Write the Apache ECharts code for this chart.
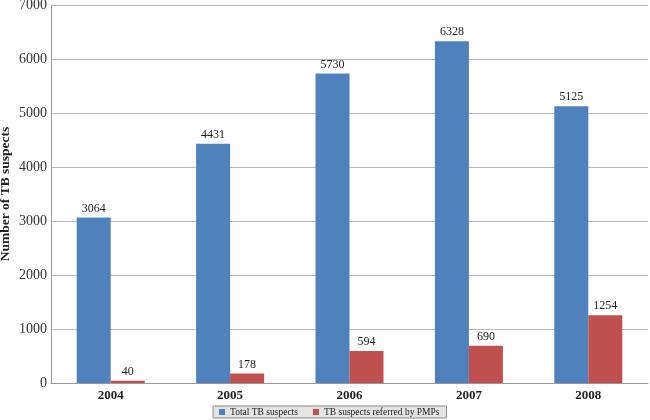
<!DOCTYPE html>
<html>
<head>
<meta charset="utf-8">
<script src="https://cdn.jsdelivr.net/npm/echarts@6/dist/echarts.min.js"></script>
<style>html,body{margin:0;padding:0;background:#fff;}#c{width:650px;height:420px;}</style>
</head>
<body>
<div id="c"></div>
<script>
const categories = ['2004', '2005', '2006', '2007', '2008'];
const totalSuspects = [3064, 4431, 5730, 6328, 5125];
const referredByPMPs = [40, 178, 594, 690, 1254];
const seriesNames = ['Total TB suspects', 'TB suspects referred by PMPs'];
const yTicks = { min: 0, max: 7000, interval: 1000 };

const font = '"Liberation Serif", "Times New Roman", serif';
const chart = echarts.init(document.getElementById('c'), null, { renderer: 'canvas' });
const labelCfg = { show: true, position: 'top', distance: 3, fontFamily: font, fontSize: 12, color: '#222' };
chart.setOption({
  animation: false,
  grid: { left: 51, right: 2, top: 5, bottom: 37, containLabel: false, outerBoundsMode: 'none' },
  legend: {
    left: 213, top: 406,
    data: seriesNames,
    icon: 'rect', itemWidth: 6, itemHeight: 6, itemGap: 15,
    backgroundColor: '#e4e4e4', borderColor: '#8a8a8a', borderWidth: 1,
    padding: [1, 7, 1, 6],
    textStyle: { fontFamily: font, fontSize: 9.5, color: '#222' }
  },
  xAxis: {
    type: 'category', data: categories,
    axisLine: { lineStyle: { color: '#999' } },
    axisTick: { show: false },
    axisLabel: { fontFamily: font, fontSize: 13, fontWeight: 'bold', color: '#222', margin: 6 }
  },
  yAxis: {
    type: 'value', min: yTicks.min, max: yTicks.max, interval: yTicks.interval,
    name: 'Number of TB suspects', nameLocation: 'middle', nameGap: 38, nameMoveOverlap: false,
    nameTextStyle: { fontFamily: font, fontSize: 13.5, fontWeight: 'bold', color: '#222' },
    axisLine: { show: true, lineStyle: { color: '#999' } },
    axisTick: { show: false },
    axisLabel: { fontFamily: font, fontSize: 14, color: '#333', margin: 4, formatter: v => String(v) },
    splitLine: { lineStyle: { color: '#b8b8b8' } }
  },
  series: [
    { name: seriesNames[0], type: 'bar', data: totalSuspects, barWidth: 34, barGap: '0%',
      itemStyle: { color: '#4F81BD' }, label: labelCfg },
    { name: seriesNames[1], type: 'bar', data: referredByPMPs, barWidth: 34, barGap: '0%',
      itemStyle: { color: '#C0504D' }, label: labelCfg }
  ]
});
</script>
</body>
</html>
